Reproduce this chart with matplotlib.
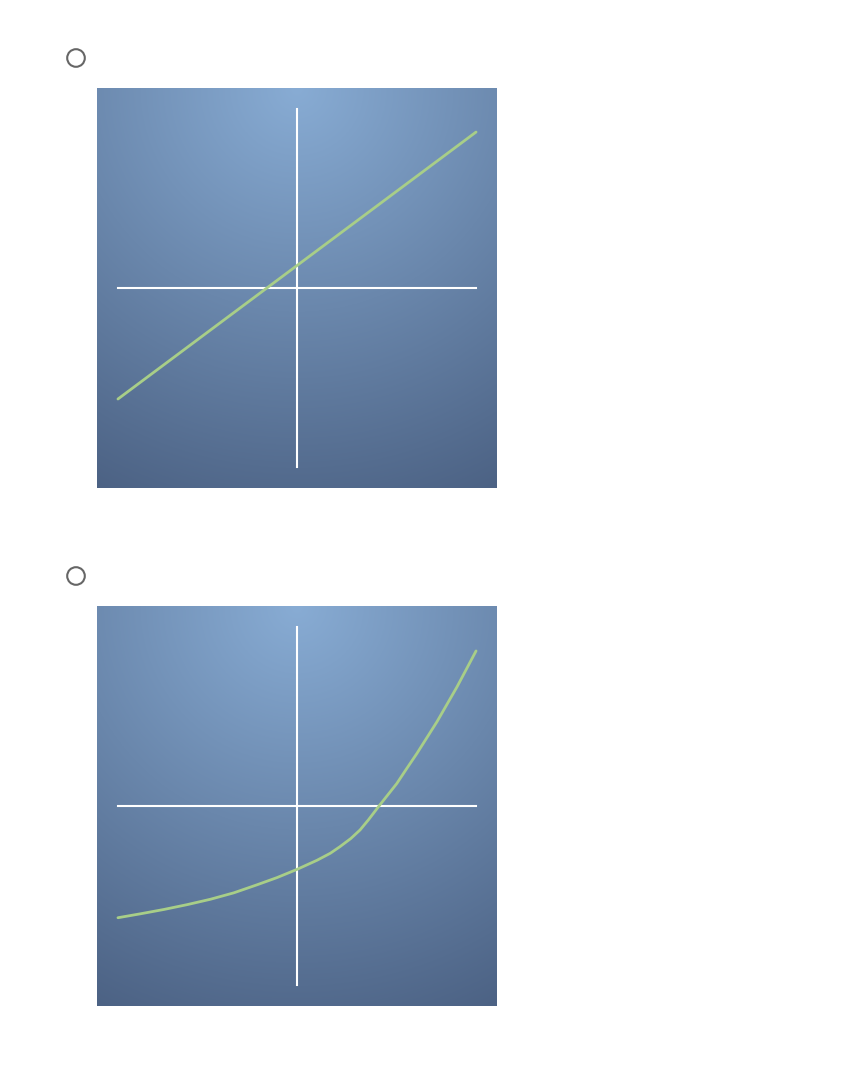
import numpy as np
import matplotlib.pyplot as plt
from matplotlib.patches import Circle

# ── Data (axis units: ±1 = end of axis lines) ──
line_x = [-1.0, 1.0]
line_y = [-0.62, 0.871]

curve_x = [-1.0, -0.874, -0.744, -0.614, -0.484, -0.353, -0.223, -0.112,
           0.0, 0.112, 0.186, 0.240, 0.300, 0.352, 0.400, 0.458, 0.557,
           0.610, 0.670, 0.782, 0.894, 1.0]
curve_y = [-0.624, -0.602, -0.578, -0.551, -0.521, -0.485, -0.440, -0.400,
           -0.354, -0.303, -0.264, -0.227, -0.182, -0.134, -0.076, 0.0,
           0.125, 0.205, 0.294, 0.471, 0.666, 0.866]

W, H = 846, 1084
GREEN = '#a8ce88'
LIM = 1.117

fig = plt.figure(figsize=(W / 100, H / 100), dpi=100)
fig.patch.set_facecolor('white')

# radial background (light at top centre, darker towards bottom corners)
n = 300
gx, gy = np.meshgrid(np.linspace(0, 1, n), np.linspace(0, 1, n))
t = np.sqrt((gx - 0.5) ** 2 + gy ** 2) / np.sqrt(1.25)
c0 = np.array([136, 172, 212]) / 255
c1 = np.array([76, 98, 132]) / 255
grad = c0 + (c1 - c0) * t[..., None]


def panel(top_px, xs, ys):
    ax = fig.add_axes([97 / W, (H - top_px - 400) / H, 400 / W, 400 / H])
    # row 0 of grad = top of the panel
    ax.imshow(grad, extent=[-LIM, LIM, -LIM, LIM], origin='upper',
              aspect='auto', zorder=0)
    ax.set_xlim(-LIM, LIM)
    ax.set_ylim(-LIM, LIM)
    ax.plot([-1, 1], [0, 0], color='white', lw=1.5, zorder=1)
    ax.plot([0, 0], [-1, 1], color='white', lw=1.5, zorder=1)
    ax.plot(xs, ys, color=GREEN, lw=2.0, zorder=2,
            solid_capstyle='round', solid_joinstyle='round')
    ax.axis('off')
    return ax


panel(88, line_x, line_y)
panel(606, curve_x, curve_y)

# radio buttons
overlay = fig.add_axes([0, 0, 1, 1], facecolor='none')
overlay.set_xlim(0, W)
overlay.set_ylim(H, 0)
overlay.axis('off')
for cy in (58, 576):
    overlay.add_patch(Circle((76, cy), 8.8, fill=False, edgecolor='#666666', lw=1.5))

fig.savefig('out.png', dpi=100, facecolor='white')
